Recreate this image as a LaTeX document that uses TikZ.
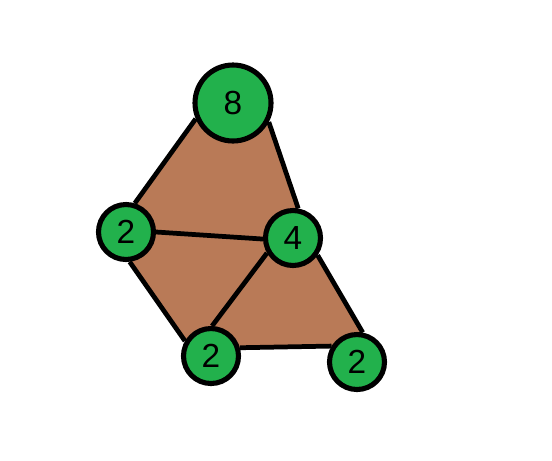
\documentclass[tikz,border=0pt]{standalone}
\usepackage{fontspec}
\setmainfont{Liberation Sans}
\usepackage{xcolor}
\usepackage{tikz}
\usetikzlibrary{positioning, backgrounds}

\definecolor{paintgreen}{RGB}{34,177,76}
\definecolor{paintbrown}{RGB}{185,122,87}

\begin{document}
\begin{tikzpicture}[line width=2.9pt, font=\fontsize{19}{21}\selectfont,
    vertex/.style={draw, circle, fill=paintgreen, inner sep=0pt, minimum size=1.1cm},
    bigvertex/.style={vertex, minimum size=1.52cm},
    link/.style={line width=2.7pt}]
      \useasboundingbox (0,0) rectangle (11.04,-9.2);

      \node[bigvertex]  (T)  at (4.66, -2.06)  {8};
      \node[vertex]     (L)  at (2.52, -4.64)  {2};
      \node[vertex]     (M)  at (5.86, -4.76)  {4};
      \node[vertex]     (B)  at (4.22, -7.12)  {2};
      \node[vertex]     (R)  at (7.14, -7.24)  {2};

      \begin{scope}[on background layer]
      % faces
      \fill[paintbrown] (T.203) -- (L.73) -- (L.277) -- (B.150) -- (B.16)
                        -- (R.148) -- (R.79) -- (M.325) -- (M.80) -- (T.332) -- cycle;

      \draw[link]  (T.203) -- (L.73);
      \draw[link]  (T.332) -- (M.80);
      \draw[link]  (L.0)   -- (M.182);
      \draw[link]  (L.277) -- (B.150);
      \draw[link]  (M.210) -- (B.88);
      \draw[link]  (B.16)  -- (R.148);
      \draw[link]  (M.325) -- (R.79);
      \end{scope}
    \end{tikzpicture}
\end{document}
